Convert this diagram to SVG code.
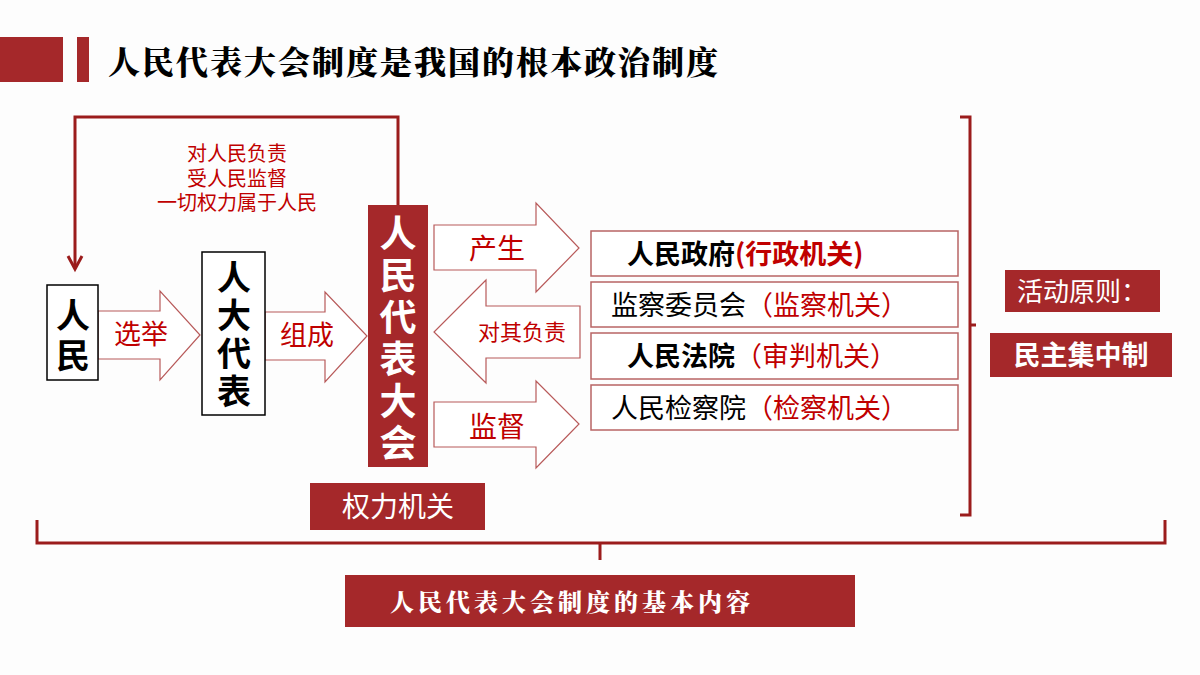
<svg xmlns="http://www.w3.org/2000/svg" width="1200" height="675" viewBox="0 0 1200 675">
<style>
.t{font-family:"Noto Sans CJK SC",sans-serif}
.cal{font-family:"Noto Serif CJK SC","Noto Sans CJK SC",serif;font-weight:900}
.red{fill:#c00000}
.blk{fill:#000}
.wh{fill:#fff}
.band{fill:#a5282a}
.arr{fill:#fff;stroke:#b85a5a;stroke-width:1.2}
.box{fill:#fff;stroke:#000;stroke-width:1.5}
.obox{fill:#fff;stroke:#b86464;stroke-width:1.5}
.line{fill:none;stroke:#9b1c1c;stroke-width:3}
</style>
<rect width="1200" height="675" fill="#fdfdfd"/>
<g id="header">
<rect class="band" x="0" y="37" width="63" height="45"/>
<rect class="band" x="77" y="37" width="12" height="45"/>
<text class="cal blk" x="108" y="74" font-size="32" letter-spacing="2">人民代表大会制度是我国的根本政治制度</text>
</g>
<g id="connectors">
<polyline class="line" points="398,206 398,117 75,117 75,268"/>
<path class="line" d="M68,256 L75,269 L82,256"/>
<path class="arr" d="M98,311 H160 V291 L200,335 L160,380 V359 H98 Z"/>
<path class="arr" d="M265,312 H325 V292 L367,336 L325,382 V360 H265 Z"/>
<path class="arr" d="M434,225 H536 V203 L579,248 L536,292 V270 H434 Z"/>
<path class="arr" d="M580,306 H486 V280 L434,332 L486,383 V358 H580 Z"/>
<path class="arr" d="M434,402 H536 V381 L579,424 L536,468 V447 H434 Z"/>
<path class="line" d="M960,117 H970 V515 H960 M970,325 H976" stroke-width="2.5"/>
<path class="line" d="M37,520 V543 H1165 V520 M600,543 V560" stroke-width="2.5"/>
</g>
<g id="labels" class="t">
<text class="red" x="237" y="161" font-size="20" text-anchor="middle">对人民负责</text>
<text class="red" x="237" y="186" font-size="20" text-anchor="middle">受人民监督</text>
<text class="red" x="237" y="210" font-size="20" text-anchor="middle">一切权力属于人民</text>
<text class="red" x="141" y="344" font-size="27" text-anchor="middle">选举</text>
<text class="red" x="307" y="345" font-size="27" text-anchor="middle">组成</text>
<text class="red" x="497" y="259" font-size="28" text-anchor="middle">产生</text>
<text class="red" x="522" y="340" font-size="22" text-anchor="middle">对其负责</text>
<text class="red" x="497" y="437" font-size="28" text-anchor="middle">监督</text>
</g>
<g id="people" class="t">
<rect class="box" x="47" y="285" width="51" height="95"/>
<text class="blk" x="73" y="328" font-size="34" font-weight="bold" text-anchor="middle">人</text>
<text class="blk" x="73" y="368" font-size="34" font-weight="bold" text-anchor="middle">民</text>
</g>
<g id="deputies" class="t">
<rect class="box" x="202" y="252" width="63" height="163"/>
<text class="blk" x="234" y="290" font-size="34" font-weight="bold" text-anchor="middle">人</text>
<text class="blk" x="234" y="328" font-size="34" font-weight="bold" text-anchor="middle">大</text>
<text class="blk" x="234" y="366" font-size="34" font-weight="bold" text-anchor="middle">代</text>
<text class="blk" x="234" y="404" font-size="34" font-weight="bold" text-anchor="middle">表</text>
</g>
<g id="npc" class="t">
<rect class="band" x="368" y="205" width="60" height="262"/>
<text class="wh" x="398" y="247" font-size="37" font-weight="bold" text-anchor="middle">人</text>
<text class="wh" x="398" y="289" font-size="37" font-weight="bold" text-anchor="middle">民</text>
<text class="wh" x="398" y="331" font-size="37" font-weight="bold" text-anchor="middle">代</text>
<text class="wh" x="398" y="373" font-size="37" font-weight="bold" text-anchor="middle">表</text>
<text class="wh" x="398" y="415" font-size="37" font-weight="bold" text-anchor="middle">大</text>
<text class="wh" x="398" y="457" font-size="37" font-weight="bold" text-anchor="middle">会</text>
</g>
<g id="power" class="t">
<rect class="band" x="310" y="483" width="175" height="47"/>
<text class="wh" x="398" y="517" font-size="28" text-anchor="middle">权力机关</text>
</g>
<g id="gov" class="t"><rect class="obox" x="591" y="231" width="367" height="45"/>
<text x="627" y="264" font-size="27" font-weight="bold"><tspan class="blk">人民政府</tspan><tspan class="red">(行政机关)</tspan></text></g>
<g id="sup" class="t"><rect class="obox" x="591" y="282" width="367" height="45"/>
<text x="611" y="315" font-size="27"><tspan class="blk">监察委员会</tspan><tspan class="red">（监察机关）</tspan></text></g>
<g id="court" class="t"><rect class="obox" x="591" y="333" width="367" height="46"/>
<text x="627" y="366" font-size="27"><tspan class="blk" font-weight="bold">人民法院</tspan><tspan class="red">（审判机关）</tspan></text></g>
<g id="proc" class="t"><rect class="obox" x="591" y="385" width="367" height="45"/>
<text x="611" y="418" font-size="27"><tspan class="blk">人民检察院</tspan><tspan class="red">（检察机关）</tspan></text></g>
<g id="principle" class="t">
<rect class="band" x="1005" y="270" width="155" height="42"/>
<text class="wh" x="1082" y="301" font-size="26" text-anchor="middle">活动原则：</text>
<rect class="band" x="990" y="333" width="182" height="44"/>
<text class="wh" x="1081" y="365" font-size="27" font-weight="bold" text-anchor="middle">民主集中制</text>
</g>
<g id="content">
<rect class="band" x="345" y="575" width="510" height="52"/>
<text class="cal wh" x="572" y="611" font-size="24" letter-spacing="4" text-anchor="middle">人民代表大会制度的基本内容</text>
</g>
</svg>
